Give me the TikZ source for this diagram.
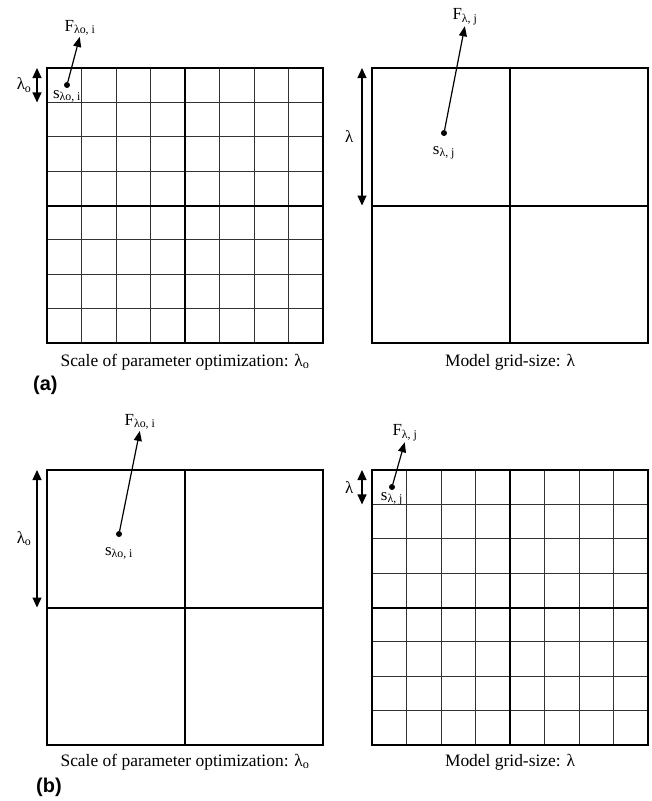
\documentclass[tikz,border=0pt]{standalone}
\usepackage{fontspec}
\setmainfont{Liberation Serif}
\newfontfamily\panelfont{Liberation Sans}
\usetikzlibrary{arrows.meta, positioning}

\tikzset{
  frame/.style={line width=2.6bp},
  halfline/.style={line width=2bp},
  fineline/.style={line width=1bp, black!80},
  vecarrow/.style={-{Triangle[length=10bp,width=8bp]}, line width=1.2bp, shorten >=1bp},
  spanarrow/.style={{Triangle[length=10bp,width=9bp]}-{Triangle[length=10bp,width=9bp]}, line width=1.2bp},
  lbl/.style={font=\fontsize{17}{19}\selectfont, inner sep=0pt},
  caption/.style={font=\fontsize{17.5}{20}\selectfont, inner sep=0pt},
  panel/.style={font=\fontsize{20}{22}\selectfont\panelfont\bfseries, inner sep=0pt, anchor=west},
  dot/.style={circle, fill, inner sep=0pt, minimum size=6bp},
}

\begin{document}
\begin{tikzpicture}[x=1bp, y=-1bp]
  \useasboundingbox (0,0) rectangle (652,801);

  % fine grids: (a) left, (b) right
  \foreach \x/\y in {47/68, 372/470} {
    \foreach \i in {1,...,7} {
      \draw[fineline] (\x+\i*34.5,\y) -- ++(0,275);
      \draw[fineline] (\x,\y+\i*34.375) -- ++(276,0);
    }
  }
  % quarters and frames
  \foreach \x/\y in {47/68, 372/68, 47/470, 372/470} {
    \draw[halfline] (\x+138,\y) -- ++(0,275) (\x,\y+137.5) -- ++(276,0);
    \draw[frame] (\x,\y) rectangle ++(276,275);
  }

  % (a) parameter optimization scale
  \node[dot] (dal) at (67,85) {};
  \node[lbl] (Fal) at (80,28) {F\textsubscript{λo, i}};
  \node[lbl, below=2bp of dal] (sal) {s\textsubscript{λo, i}};
  \draw[vecarrow] (dal) -- (Fal.south);
  \coordinate (tal) at (37,68);
  \coordinate (bal) at (37,102.4);
  \draw[spanarrow] (tal) -- (bal) node[lbl, midway, left=5bp] (lal) {λ\textsubscript{o}};
  \node[caption] (cal) at (185,362) {Scale of parameter optimization: λ\textsubscript{o}};

  % (a) model grid
  \node[dot] (dar) at (444,133) {};
  \node[lbl] (Far) at (465,17) {F\textsubscript{λ, j}};
  \node[lbl, below=10bp of dar] (sar) {s\textsubscript{λ, j}};
  \draw[vecarrow] (dar) -- (Far.south);
  \coordinate (tar) at (362,68);
  \coordinate (bar) at (362,205.5);
  \draw[spanarrow] (tar) -- (bar) node[lbl, midway, left=8bp] (lar) {λ};
  \node[caption] (car) at (510,362) {Model grid-size: λ};

  \node[panel] (pa) at (33,385) {(a)};

  % (b) parameter optimization scale
  \node[dot] (dbl) at (119,534) {};
  \node[lbl] (Fbl) at (140,422) {F\textsubscript{λo, i}};
  \node[lbl, below=10bp of dbl] (sbl) {s\textsubscript{λo, i}};
  \draw[vecarrow] (dbl) -- (Fbl.south);
  \coordinate (tbl) at (37,470);
  \coordinate (bbl) at (37,607.5);
  \draw[spanarrow] (tbl) -- (bbl) node[lbl, midway, left=5bp] (lbl) {λ\textsubscript{o}};
  \node[caption] (cbl) at (185,762) {Scale of parameter optimization: λ\textsubscript{o}};

  % (b) model grid
  \node[dot] (dbr) at (392,487) {};
  \node[lbl] (Fbr) at (405,433) {F\textsubscript{λ, j}};
  \node[lbl, below=2bp of dbr] (sbr) {s\textsubscript{λ, j}};
  \draw[vecarrow] (dbr) -- (Fbr.south);
  \coordinate (tbr) at (362,470);
  \coordinate (bbr) at (362,504.4);
  \draw[spanarrow] (tbr) -- (bbr) node[lbl, midway, left=8bp] (lbr) {λ};
  \node[caption] (cbr) at (510,762) {Model grid-size: λ};

  \node[panel] (pb) at (36,787) {(b)};
\end{tikzpicture}
\end{document}
